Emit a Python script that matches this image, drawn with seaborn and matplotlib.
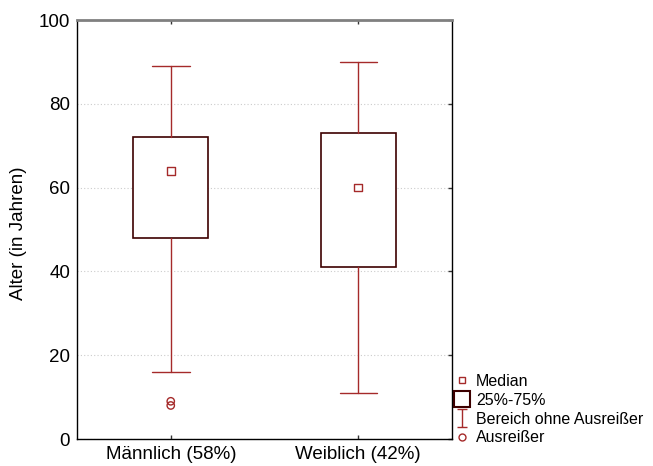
import numpy as np
import matplotlib
matplotlib.use("Agg")
import matplotlib.pyplot as plt
from matplotlib.lines import Line2D
from matplotlib.path import Path
import seaborn as sns

# Summary statistics per group
groups = ["Männlich (58%)", "Weiblich (42%)"]
medians = [64, 60]
q1 = [48, 41]
q3 = [72, 73]
whisker_low = [16, 11]
whisker_high = [89, 90]
outliers = [[9, 8], []]

y_ticks = [0, 20, 40, 60, 80, 100]
y_label = "Alter (in Jahren)"
legend_labels = ["Median", "25%-75%", "Bereich ohne Ausreißer", "Ausreißer"]

RED = "#a52a2a"
DARK = "#3d0000"

sns.set_style("white")
plt.rcParams["font.family"] = ["Liberation Sans", "DejaVu Sans"]
plt.rcParams["text.color"] = "black"
plt.rcParams["axes.labelcolor"] = "black"

fig = plt.figure(figsize=(6.53, 4.66), dpi=100)
ax = fig.add_axes([77 / 653, 1 - 439 / 466, 375 / 653, 419 / 466])

pos = np.arange(len(groups))
stats = []
for i, name in enumerate(groups):
    stats.append(dict(med=medians[i], q1=q1[i], q3=q3[i],
                      whislo=whisker_low[i], whishi=whisker_high[i],
                      fliers=[], label=name))

ax.bxp(stats, positions=pos, widths=0.4, capwidths=0.2,
       showfliers=False, patch_artist=True,
       boxprops=dict(facecolor="white", edgecolor=DARK, linewidth=1.2),
       whiskerprops=dict(color=RED, linewidth=1.0),
       capprops=dict(color=RED, linewidth=1.0),
       medianprops=dict(visible=False), zorder=2)

# Median markers
sns.scatterplot(x=pos, y=medians, ax=ax, marker="s", s=30,
                facecolor="none", edgecolor=RED, linewidth=1.0, zorder=3)

# Outliers
ox = [pos[i] for i, vals in enumerate(outliers) for _ in vals]
oy = [v for vals in outliers for v in vals]
sns.scatterplot(x=ox, y=oy, ax=ax, marker="o", s=28,
                facecolor="none", edgecolor=RED, linewidth=1.0, zorder=3)

ax.set_xlim(-0.5, len(groups) - 0.5)
ax.set_ylim(0, 100)
ax.set_yticks(y_ticks)
ax.set_xticks(pos)
ax.set_xticklabels(groups)
ax.yaxis.grid(True, linestyle=(0, (1, 2)), color="#cccccc", linewidth=0.8)
ax.set_axisbelow(True)

ax.tick_params(axis="both", direction="in", length=3, width=1, color="#333333",
               labelsize=13.5, labelcolor="black")
ax.tick_params(axis="y", left=False, right=True, pad=5)
ax.tick_params(axis="x", top=True, bottom=True, pad=5)

ax.set_ylabel(y_label, fontsize=13.5, color="black")
ax.yaxis.set_label_coords(-0.134, 0.49)
ax.set_xlabel("")

for side in ["left", "right", "bottom"]:
    ax.spines[side].set_color("black")
    ax.spines[side].set_linewidth(1.0)
ax.spines["top"].set_color("#808080")
ax.spines["top"].set_linewidth(2.0)

# Legend with custom glyphs
ibeam = Path([(-0.5, 1), (0.5, 1), (0, 1), (0, -1), (-0.5, -1), (0.5, -1)],
             [Path.MOVETO, Path.LINETO, Path.MOVETO, Path.LINETO,
              Path.MOVETO, Path.LINETO])
handles = [
    Line2D([], [], ls="", marker="s", ms=5, mfc="none", mec=RED, mew=1.0),
    Line2D([], [], ls="", marker="s", ms=11, mfc="white", mec=DARK, mew=1.5),
    Line2D([], [], ls="", marker=ibeam, ms=13, mfc="none", mec=RED, mew=1.0),
    Line2D([], [], ls="", marker="o", ms=5, mfc="none", mec=RED, mew=1.0),
]
leg = fig.legend(handles, legend_labels, loc="upper left",
                 bbox_to_anchor=(455 / 653, 1 - 374 / 466),
                 frameon=False, fontsize=11.5, handlelength=0.9,
                 handletextpad=0.4, labelspacing=0.24, borderpad=0,
                 borderaxespad=0)
for t in leg.get_texts():
    t.set_color("black")

fig.savefig("out.png", dpi=100)
